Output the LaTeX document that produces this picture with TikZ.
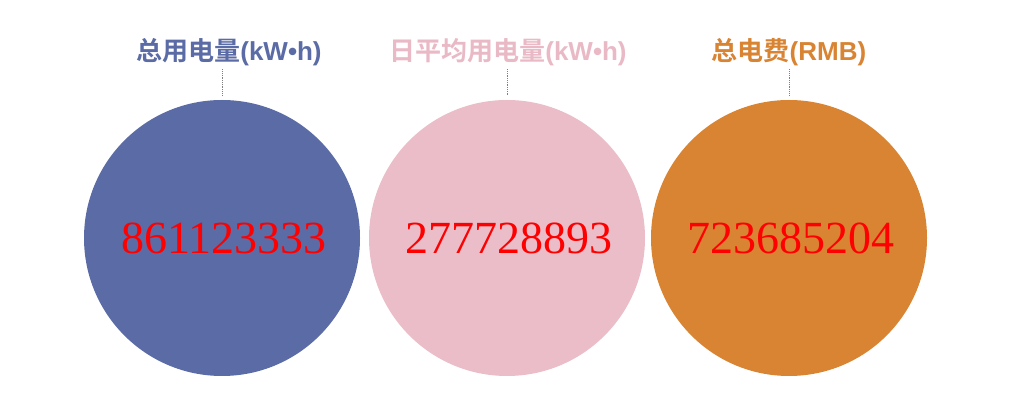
\documentclass[tikz,border=0pt]{standalone}
\usepackage{fontspec}
\setmainfont{Liberation Serif}
\newfontfamily\cjk{Noto Sans CJK SC}[BoldFont={* Bold}]
\newfontfamily\lat{Liberation Sans}
\definecolor{cblue}{HTML}{5A6BA5}
\definecolor{cpink}{HTML}{EABDC8}
\definecolor{cpinklabel}{HTML}{E9B9C6}
\definecolor{corange}{HTML}{D88433}
\tikzset{
  disc/.style={circle, fill=#1, minimum size=276pt, inner sep=0pt,
    font=\fontsize{46}{46}\selectfont, text=red},
  label/.style={font=\cjk\bfseries\fontsize{26}{26}\selectfont, text=#1},
  lead/.style={draw=gray, densely dotted, line width=0.8pt}
}
\begin{document}
\begin{tikzpicture}[x=1pt, y=1pt]
  \useasboundingbox (0,0) rectangle (1010,415);
  \node[disc=cblue] (c1) at (222, 177) {\hspace{4pt}861123333};
  \node[disc=cpink] (c2) at (507, 177) {\hspace{4pt}277728893};
  \node[disc=corange] (c3) at (789, 177) {\hspace{4pt}723685204};
  \node[label=cblue] (l1) at (229, 363) {总用电量{\lat\bfseries(kW•h)}};
  \node[label=cpinklabel] (l2) at (508, 363) {日平均用电量{\lat\bfseries(kW•h)}};
  \node[label=corange] (l3) at (789, 363) {总电费{\lat\bfseries(RMB)}};
  \coordinate (t1) at (222, 320);
  \coordinate (t2) at (507, 320);
  \coordinate (t3) at (789, 320);
  \draw[lead] (l1.south -| t1) -- (t1);
  \draw[lead] (l2.south -| t2) -- (t2);
  \draw[lead] (l3.south -| t3) -- (t3);
\end{tikzpicture}
\end{document}
